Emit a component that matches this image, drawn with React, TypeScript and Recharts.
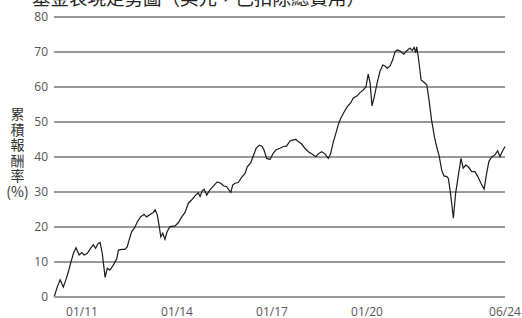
import React from 'react';
import { LineChart, Line, XAxis, YAxis, CartesianGrid } from 'recharts';

const titleText = '基金表現走勢圖（美元，已扣除總費用）';
const yLabelChars = ['累', '積', '報', '酬', '率', '(%)'];

const years = [
  2010.12, 2010.22, 2010.31, 2010.41, 2010.49, 2010.57, 2010.64, 2010.73, 2010.81, 2010.91,
  2010.99, 2011.07, 2011.17, 2011.27, 2011.36, 2011.43, 2011.51, 2011.57, 2011.64, 2011.73,
  2011.80, 2011.88, 2011.99, 2012.10, 2012.15, 2012.25, 2012.36, 2012.43, 2012.49, 2012.57,
  2012.65, 2012.75, 2012.85, 2012.96, 2013.04, 2013.15, 2013.25, 2013.31, 2013.38, 2013.44,
  2013.49, 2013.55, 2013.62, 2013.69, 2013.78, 2013.94, 2014.04, 2014.15, 2014.25, 2014.36,
  2014.46, 2014.57, 2014.67, 2014.73, 2014.80, 2014.86, 2014.94, 2015.04, 2015.15, 2015.27,
  2015.38, 2015.48, 2015.57, 2015.64, 2015.70, 2015.76, 2015.83, 2015.94, 2016.04, 2016.15,
  2016.22, 2016.33, 2016.41, 2016.50, 2016.60, 2016.68, 2016.75, 2016.83, 2016.94, 2017.02,
  2017.12, 2017.25, 2017.36, 2017.46, 2017.57, 2017.67, 2017.76, 2017.83, 2017.94, 2018.04,
  2018.15, 2018.25, 2018.39, 2018.46, 2018.57, 2018.67, 2018.78, 2018.85, 2018.94, 2019.02,
  2019.09, 2019.17, 2019.27, 2019.38, 2019.49, 2019.57, 2019.68, 2019.78, 2019.88, 2019.97,
  2020.04, 2020.10, 2020.16, 2020.23, 2020.33, 2020.41, 2020.50, 2020.57, 2020.64, 2020.73,
  2020.81, 2020.89, 2020.96, 2021.02, 2021.07, 2021.16, 2021.25, 2021.36, 2021.43, 2021.49,
  2021.54, 2021.57, 2021.62, 2021.71, 2021.78, 2021.89, 2021.96, 2022.04, 2022.13, 2022.20,
  2022.28, 2022.36, 2022.43, 2022.52, 2022.57, 2022.64, 2022.73, 2022.80, 2022.88, 2022.97,
  2023.04, 2023.12, 2023.20, 2023.31, 2023.41, 2023.50, 2023.60, 2023.70, 2023.78, 2023.85,
  2023.94, 2024.04, 2024.13, 2024.20, 2024.27, 2024.36,
];

const returns = [
  0, 2.9, 4.9, 2.8, 4.9, 7.2, 9.6, 12.5, 14.1, 12.0,
  12.7, 12.0, 12.5, 13.9, 14.9, 13.9, 15.3, 15.6, 12.5, 5.6,
  8.2, 7.7, 9.1, 11.0, 13.4, 13.6, 13.6, 14.4, 16.3, 18.7,
  19.6, 21.5, 22.9, 23.6, 22.9, 23.6, 24.1, 24.9, 23.4, 20.1,
  17.2, 18.2, 16.5, 18.7, 20.1, 20.3, 21.2, 22.9, 24.1, 26.8,
  27.7, 28.9, 29.8, 28.7, 30.4, 30.8, 29.1, 30.6, 31.7, 32.9,
  32.5, 31.7, 31.5, 30.6, 29.9, 32.0, 32.5, 32.7, 34.2, 35.3,
  37.2, 38.4, 40.3, 42.5, 43.4, 43.1, 42.0, 39.6, 39.3, 40.8,
  42.0, 42.5, 43.0, 43.1, 44.6, 44.9, 45.0, 44.4, 43.7, 42.5,
  41.5, 40.9, 40.1, 40.9, 41.5, 40.9, 39.6, 40.9, 44.4, 46.8,
  49.1, 51.0, 52.7, 54.4, 55.5, 56.9, 57.4, 58.4, 59.1, 60.1,
  63.7, 61.1, 54.6, 57.2, 61.5, 64.4, 66.3, 66.0, 65.3, 66.0,
  67.7, 70.1, 70.6, 70.4, 70.1, 69.4, 70.3, 71.1, 70.4, 71.3,
  69.8, 71.5, 68.7, 62.0, 61.5, 60.6, 56.3, 50.6, 45.8, 43.0,
  40.3, 36.3, 34.6, 34.4, 33.9, 29.6, 22.5, 29.6, 34.4, 39.6,
  36.8, 37.7, 37.2, 35.8, 35.8, 34.4, 32.5, 30.8, 35.3, 38.7,
  40.0, 40.6, 41.8, 40.1, 41.5, 43.0,
];

const xTickValues = [2011, 2014, 2017, 2020, 2024.36];
const xTickLabels = ['01/11', '01/14', '01/17', '01/20', '06/24'];
const yTicks = [0, 10, 20, 30, 40, 50, 60, 70, 80];

const data = years.map((t, i) => ({ t, v: returns[i] }));

export default function App() {
  return (
    <div style={{ position: 'absolute', left: 0, top: 0, width: 522, height: 318, overflow: 'hidden', background: '#fff' }}>
      <div
        style={{
          position: 'absolute',
          left: 32,
          top: -14,
          fontFamily: '"Noto Sans CJK TC", sans-serif',
          fontSize: 18.5,
          lineHeight: '22px',
          color: '#222',
          whiteSpace: 'nowrap',
        }}
      >
        {titleText}
      </div>
      <div
        style={{
          position: 'absolute',
          left: 2,
          top: 106,
          width: 31,
          textAlign: 'center',
          fontFamily: '"Noto Sans CJK TC", sans-serif',
          fontSize: 14,
          lineHeight: '15.5px',
          color: '#333',
        }}
      >
        {yLabelChars.map((c, i) => (
          <div key={i} style={{ height: 15.5 }}>{c}</div>
        ))}
      </div>
      <LineChart
        width={522}
        height={318}
        data={data}
        margin={{ top: 17, right: 17, bottom: 0, left: 0 }}
        style={{ position: 'absolute', left: 0, top: 0 }}
      >
        <CartesianGrid vertical={false} stroke="#333" strokeWidth={1} />
        <XAxis
          dataKey="t"
          type="number"
          domain={[2010.116, 2024.36]}
          ticks={xTickValues}
          tickFormatter={(v: number) => xTickLabels[xTickValues.indexOf(v)] ?? ''}
          height={21}
          tickLine={false}
          tickSize={0}
          tickMargin={10}
          axisLine={{ stroke: '#9a9a9a', strokeWidth: 2 }}
          tick={{ fill: '#555', fontSize: 12, fontFamily: '"Open Sans", sans-serif' }}
          interval={0}
        />
        <YAxis
          domain={[0, 80]}
          ticks={yTicks}
          width={54}
          axisLine={false}
          tickLine={false}
          tickSize={0}
          tickMargin={6}
          tick={{ fill: '#555', fontSize: 12, fontFamily: '"Open Sans", sans-serif' }}
          interval={0}
        />
        <Line
          type="linear"
          dataKey="v"
          stroke="#1a1a1a"
          strokeWidth={1.2}
          dot={false}
          isAnimationActive={false}
        />
      </LineChart>
    </div>
  );
}
